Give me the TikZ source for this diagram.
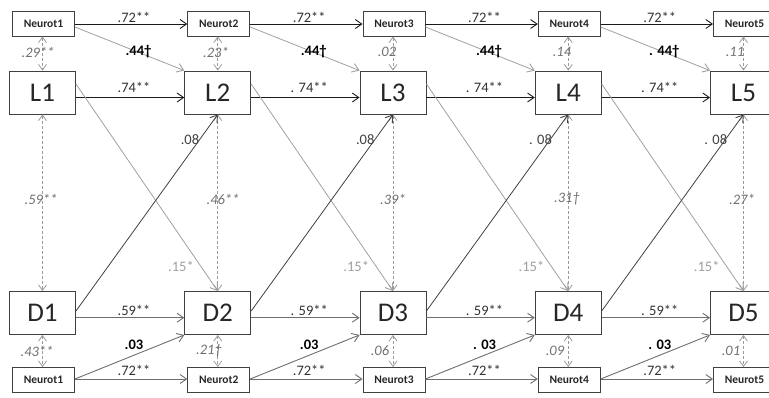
\documentclass[tikz,border=0pt]{standalone}
\usepackage{fontspec}
\setmainfont{Carlito}
\usetikzlibrary{arrows.meta}

\definecolor{boxline}{HTML}{404040}
\definecolor{pathdark}{HTML}{1A1A1A}
\definecolor{pathmid}{HTML}{6E6E6E}
\definecolor{pathlight}{HTML}{A0A0A0}
\definecolor{covline}{HTML}{9A9A9A}
\definecolor{covtext}{HTML}{707070}
\definecolor{lighttext}{HTML}{A0A0A0}

\tikzset{
  nbox/.style={draw=boxline, line width=0.9pt, minimum width=62pt, minimum height=25pt,
    inner sep=0pt, font=\fontsize{11.5}{12}\selectfont\bfseries, text=black!85},
  bigbox/.style={draw=boxline, line width=0.9pt, minimum width=66pt, minimum height=43pt,
    inner sep=0pt, font=\fontsize{27}{28}\selectfont, text=black!85},
  tip/.style={-{Straight Barb[length=6.5pt,width=9pt,line width=0.9pt]}},
  hdark/.style={tip, draw=pathdark, line width=0.9pt},
  hmid/.style={tip, draw=pathmid, line width=0.9pt},
  xlight/.style={tip, draw=pathlight, line width=0.8pt},
  xdark/.style={tip, draw=boxline, line width=0.8pt},
  cov/.style={{Straight Barb[length=5.5pt,width=8pt,line width=0.8pt]}-{Straight Barb[length=5.5pt,width=8pt,line width=0.8pt]},
    draw=covline, line width=0.8pt, dash pattern=on 3pt off 2pt},
  lab/.style={inner sep=0pt, font=\fontsize{14.5}{15}\selectfont, text=black!80},
  labbold/.style={lab, font=\fontsize{14.5}{15}\selectfont\bfseries, text=black},
  labcov/.style={lab, font=\fontsize{14.5}{15}\selectfont\itshape, text=covtext},
  lablight/.style={lab, text=lighttext},
}

\begin{document}
\begin{tikzpicture}[x=1pt,y=-1pt]
\useasboundingbox (0,0) rectangle (769,397);
\clip (0,0) rectangle (769,397);

% boxes: neuroticism (top and bottom), L and D at five waves
\foreach \i in {1,...,5} {
  \pgfmathsetmacro\cx{42.5+175.25*(\i-1)}
  \node[nbox]   (NT\i) at (\cx+1,23.5) {Neurot\i};
  \node[bigbox] (L\i)  at (\cx,92.5)   {L\i};
  \node[bigbox] (D\i)  at (\cx,313)    {D\i};
  \node[nbox]   (NB\i) at (\cx+1,380)  {Neurot\i};
}

% within-wave covariances
\foreach \i in {1,...,5} {
  \draw[cov] (L\i.north |- NT\i.south) -- (L\i.north);
  \draw[cov] (L\i.south) -- (D\i.north);
  \draw[cov] (D\i.south) -- (D\i.south |- NB\i.north);
}

% autoregressive and cross-lagged paths
\foreach \i [evaluate=\i as \j using int(\i+1)] in {1,...,4} {
  \draw[hdark]  ([yshift=-0.5pt]NT\i.east) -- ([yshift=-0.5pt]NT\j.west);
  \draw[hdark]  ([yshift=-5pt]L\i.east) -- ([yshift=-5pt]L\j.west);
  \draw[hmid]   ([yshift=-4.7pt]D\i.east) -- ([yshift=-4.7pt]D\j.west);
  \draw[hmid]   ([yshift=1pt]NB\i.east) -- ([yshift=1pt]NB\j.west);
  \draw[xlight] ([yshift=-3.5pt]NT\i.east) -- (L\j.north west);
  \draw[xlight] ([yshift=8.5pt]L\i.east) -- (D\j.north);
  \draw[xdark]  ([yshift=2pt]D\i.east) -- (L\j.south);
  \draw[hmid]   ([yshift=1pt]NB\i.east) -- (D\j.south west);
}

% path coefficients
\foreach \i/\a/\b/\c/\d/\e in {
  1/.44†/.74**/.08/.59**/.03,
  2/.44†/. 74**/.08/. 59**/.03,
  3/.44†/. 74**/. 08/. 59**/. 03,
  4/. 44†/. 74**/. 08/. 59**/. 03} {
  \pgfmathsetmacro\cx{42.5+175.25*(\i-1)}
  \node[lab]      (kNN\i) at (\cx+91.5,17)  {.72**};
  \node[labbold]  (kNL\i) at (\cx+96,52)    {\a};
  \node[lab]      (kLL\i) at (\cx+91.5,87)  {\b};
  \node[lab, text=boxline] (kDL\i) at (\cx+147.5,140) {\c};
  \node[lablight] (kLD\i) at (\cx+138.5,266) {.15*};
  \node[lab]      (kDD\i) at (\cx+91.5,310) {\d};
  \node[labbold]  (kND\i) at (\cx+91.5,345) {\e};
  \node[lab]      (kBB\i) at (\cx+91.5,370) {.72**};
}

% covariance coefficients
\foreach \i/\x/\t in {1/38/.29**, 2/216/.23*, 3/387/.02, 4/562/.14, 5/735/.11}
  \node[labcov] (cT\i) at (\x,52) {\t};
\foreach \i/\x/\t in {1/41/.59**, 2/223/.46**, 3/393/.39*, 4/567/.31†, 5/742/.27*}
  \node[labcov] (cM\i) at (\x,199) {\t};
\foreach \i/\x/\t in {1/37/.43**, 2/209/.21†, 3/380/.06, 4/555/.09, 5/731/.01}
  \node[labcov] (cB\i) at (\x,351) {\t};
\end{tikzpicture}
\end{document}
